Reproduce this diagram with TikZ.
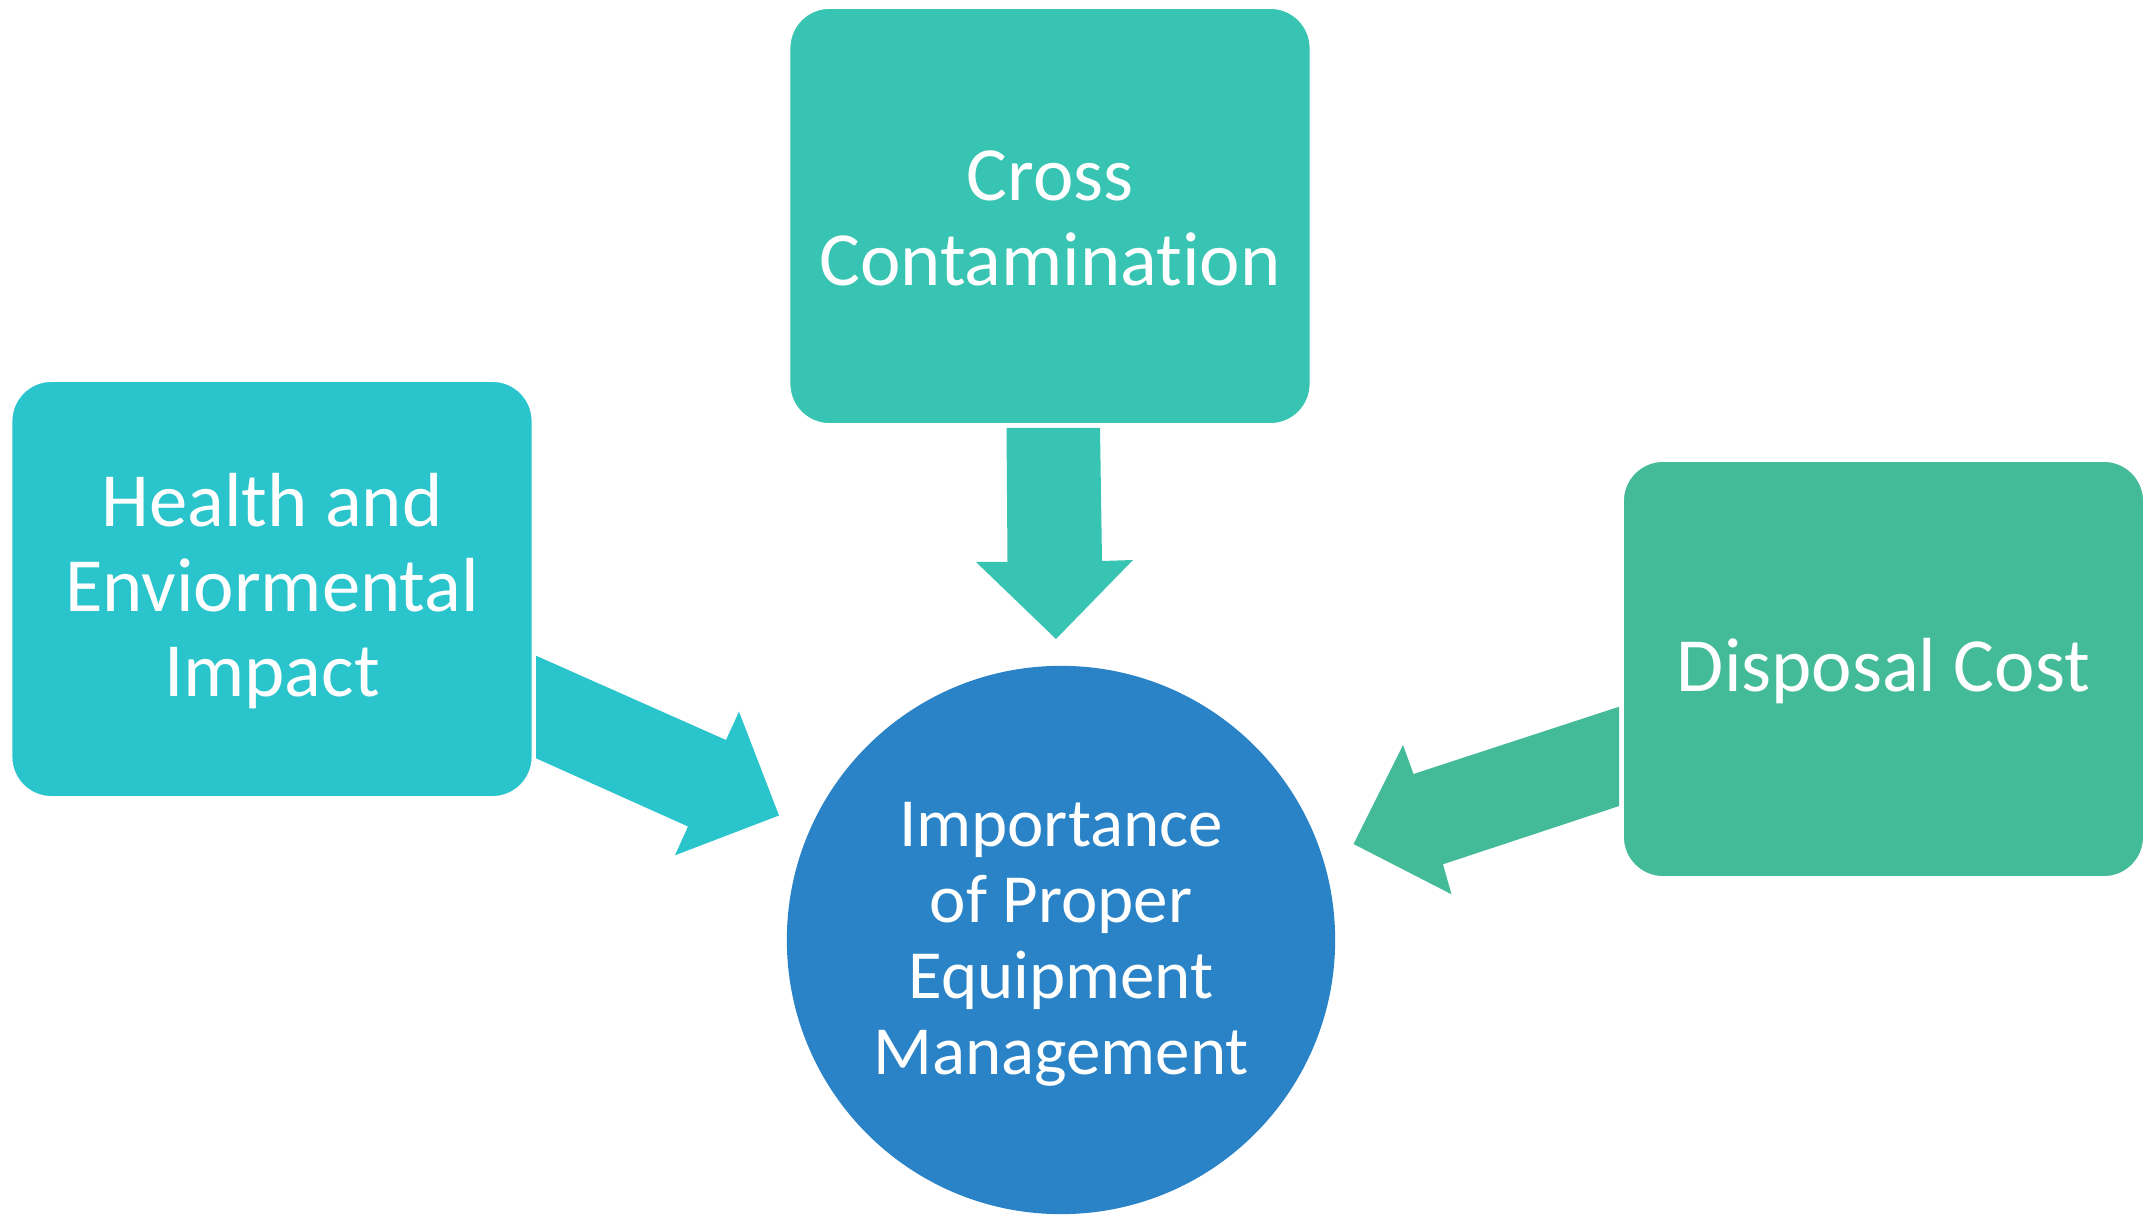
\documentclass[tikz,border=0pt]{standalone}
\usepackage{fontspec}
\setmainfont[RawFeature={-liga;-dlig;-clig}]{Carlito}
\definecolor{crossc}{RGB}{55,196,178}
\definecolor{healthc}{RGB}{41,196,204}
\definecolor{dispc}{RGB}{68,187,152}
\definecolor{circc}{RGB}{41,131,198}
\begin{document}
\begin{tikzpicture}[x=0.01cm,y=-0.01cm,
  box/.style={rectangle, rounded corners=0.4cm, minimum width=5.21cm, minimum height=4.16cm,
    inner sep=0pt, draw=white, line width=0.6pt},
  boxtext/.style={inner sep=0pt, text=white, align=center, font=\fontsize{21.8}{24.2}\selectfont},
  hub/.style={circle, minimum size=5.48cm, inner sep=0pt, fill=circc},
  hubtext/.style={inner sep=0pt, text=white, align=center, font=\fontsize{19.6}{21.6}\selectfont}]
\useasboundingbox (0,0) rectangle (2150,1216);
\node[box, fill=crossc] (cross) at (1050,216) {};
\node[boxtext] (crosst) at ([yshift=-0.02cm]cross.center) {Cross\\Contamination};
\node[box, fill=healthc] (health) at (272,589) {};
\node[boxtext] (healtht) at ([yshift=-0.02cm]health.center) {Health and\\Enviormental\\Impact};
\node[box, fill=dispc] (disp) at (1883.5,669) {};
\node[boxtext] (dispt) at ([yshift=-0.02cm]disp.center) {Disposal Cost};
\node[hub] (hub) at (1061,940) {};
\node[hubtext] (hubt) at ([yshift=-0.045cm]hub.center) {Importance\\of Proper\\Equipment\\Management};
% block arrows
\fill[crossc] (1006.5,427.8) -- (1100,427.8) -- (1102,561) -- (1133,560) -- (1056,639)
  -- (976,562) -- (1007.5,562) -- cycle;
\fill[healthc] (536,655.7) -- (726,740) -- (739,711.7) -- (779,815.5) -- (675,855.3)
  -- (688,826.5) -- (536,758.3) -- cycle;
\fill[dispc] (1619.2,706.7) -- (1413.5,774) -- (1403,745) -- (1353.5,844) -- (1451.5,894.3)
  -- (1443,864.3) -- (1619.2,806) -- cycle;
\end{tikzpicture}
\end{document}
